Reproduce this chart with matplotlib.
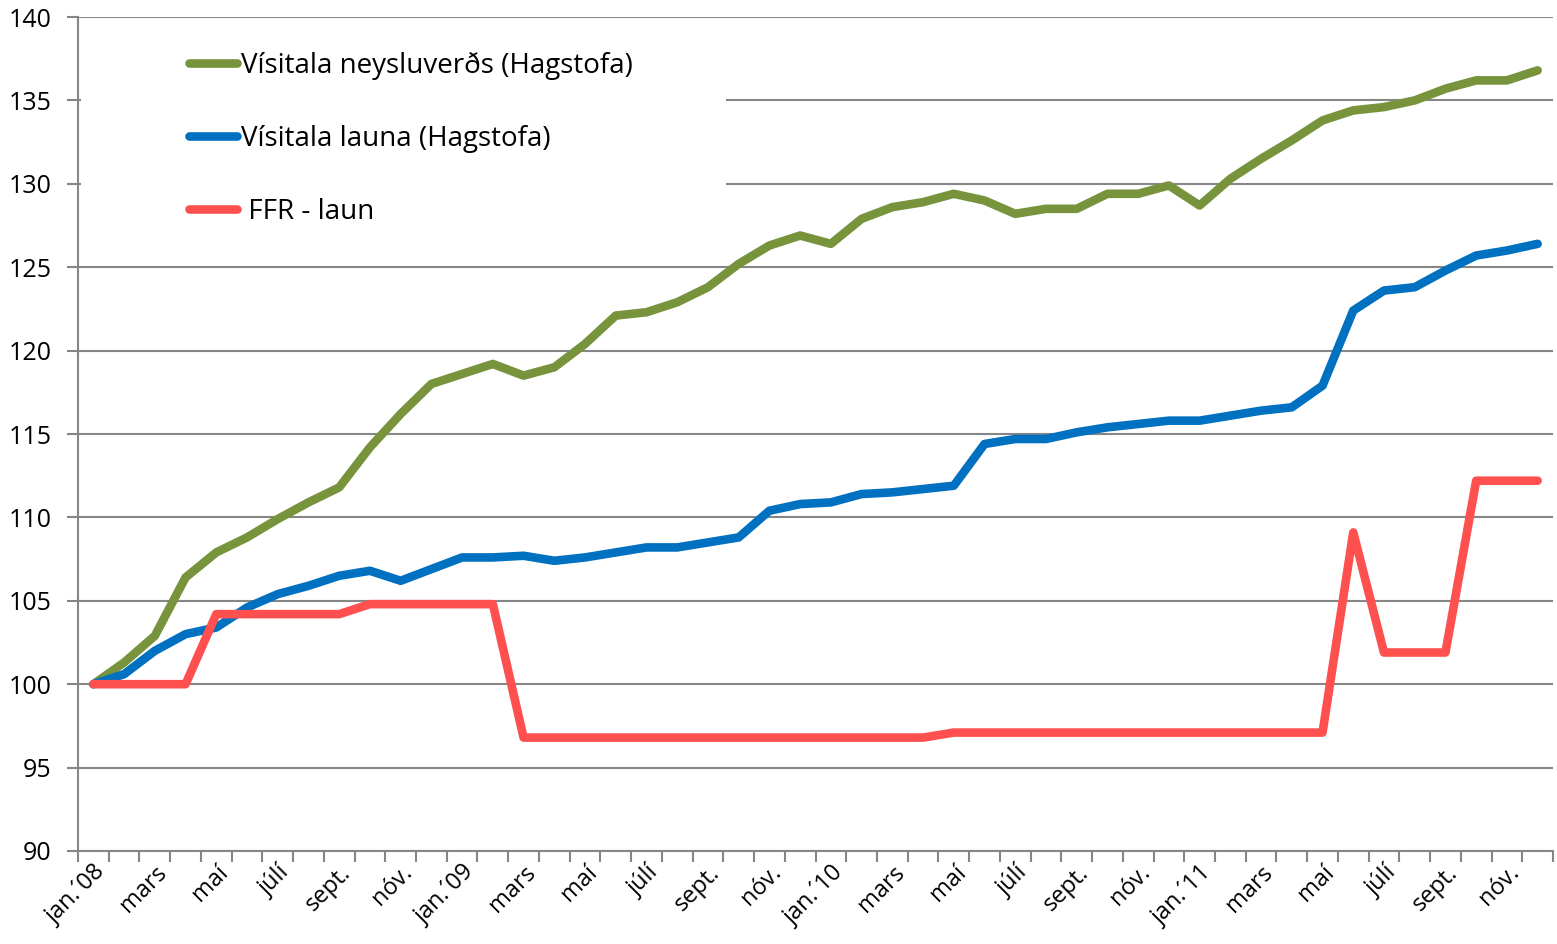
import matplotlib
matplotlib.use("Agg")
import matplotlib.pyplot as plt
from matplotlib.patches import Rectangle
import numpy as np

# monthly index values, jan 2008 - dec 2011 (jan 2008 = 100)
cpi = [100.0, 101.3, 102.9, 106.4, 107.9, 108.8, 109.9, 110.9, 111.8, 114.2, 116.2, 118.0,
       118.6, 119.2, 118.5, 119.0, 120.4, 122.1, 122.3, 122.9, 123.8, 125.2, 126.3, 126.9,
       126.4, 127.9, 128.6, 128.9, 129.4, 129.0, 128.2, 128.5, 128.5, 129.4, 129.4, 129.9,
       128.7, 130.3, 131.5, 132.6, 133.8, 134.4, 134.6, 135.0, 135.7, 136.2, 136.2, 136.8]
wages = [100.0, 100.6, 102.0, 103.0, 103.4, 104.6, 105.4, 105.9, 106.5, 106.8, 106.2, 106.9,
         107.6, 107.6, 107.7, 107.4, 107.6, 107.9, 108.2, 108.2, 108.5, 108.8, 110.4, 110.8,
         110.9, 111.4, 111.5, 111.7, 111.9, 114.4, 114.7, 114.7, 115.1, 115.4, 115.6, 115.8,
         115.8, 116.1, 116.4, 116.6, 117.9, 122.4, 123.6, 123.8, 124.8, 125.7, 126.0, 126.4]
ffr = [100.0, 100.0, 100.0, 100.0, 104.2, 104.2, 104.2, 104.2, 104.2, 104.8, 104.8, 104.8,
       104.8, 104.8, 96.8, 96.8, 96.8, 96.8, 96.8, 96.8, 96.8, 96.8, 96.8, 96.8,
       96.8, 96.8, 96.8, 96.8, 97.1, 97.1, 97.1, 97.1, 97.1, 97.1, 97.1, 97.1,
       97.1, 97.1, 97.1, 97.1, 97.1, 109.1, 101.9, 101.9, 101.9, 112.2, 112.2, 112.2]

month_labels = ["jan.\u00b408", "mars", "maí", "júlí", "sept.", "nóv.",
                "jan.\u00b409", "mars", "maí", "júlí", "sept.", "nóv.",
                "jan.\u00b410", "mars", "maí", "júlí", "sept.", "nóv.",
                "jan.\u00b411", "mars", "maí", "júlí", "sept.", "nóv."]

series = [
    ("Vísitala neysluverðs (Hagstofa)", cpi, "#77933C"),
    ("Vísitala launa (Hagstofa)", wages, "#0070C0"),
    (" FFR - laun", ffr, "#FF5050"),
]

plt.rcParams["font.family"] = ["Open Sans", "DejaVu Sans"]

fig = plt.figure(figsize=(15.57, 9.44), dpi=100)
ax = fig.add_axes([78 / 1557, 1 - 851 / 944, (1553 - 78) / 1557, (851 - 17) / 944])

x = np.arange(len(cpi))
for name, vals, col in series:
    ax.plot(x, vals, color=col, lw=6.2, label=name,
            solid_capstyle="round", solid_joinstyle="round", zorder=3)

ax.set_xlim(-0.5, len(cpi) - 0.5)
ax.set_ylim(90, 140)
ax.set_yticks(np.arange(90, 141, 5))
ax.set_yticklabels([str(v) for v in range(90, 141, 5)], fontsize=18)
ax.grid(axis="y", color="#868686", lw=1.5)
ax.set_axisbelow(True)

ax.set_xticks(np.arange(-0.5, len(cpi), 1.0), minor=True)
ax.set_xticks(x[::2])
ax.set_xticklabels(month_labels, rotation=45, ha="right", rotation_mode="anchor", fontsize=17)
ax.tick_params(axis="x", which="major", length=0, pad=7)
ax.tick_params(axis="x", which="minor", length=8, width=1.5, color="#868686")
ax.tick_params(axis="y", length=8, width=1.5, color="#868686", pad=11)

for s in ("top", "right"):
    ax.spines[s].set_visible(False)
for s in ("left", "bottom"):
    ax.spines[s].set_color("#868686")
    ax.spines[s].set_linewidth(1.5)

# white legend area like the original (covers gridlines)
ax.add_patch(Rectangle((0.002, 0.745), 0.437, 0.23, transform=ax.transAxes,
                       facecolor="white", edgecolor="none", zorder=1))

leg = ax.legend(loc="upper left", bbox_to_anchor=(0.058, 0.988), frameon=False,
                fontsize=20, handlelength=1.75, handletextpad=0.15, labelspacing=1.62)
for h in leg.get_lines():
    h.set_linewidth(6.2)
    h.set_solid_capstyle("round")

fig.savefig("out.png", dpi=100)
